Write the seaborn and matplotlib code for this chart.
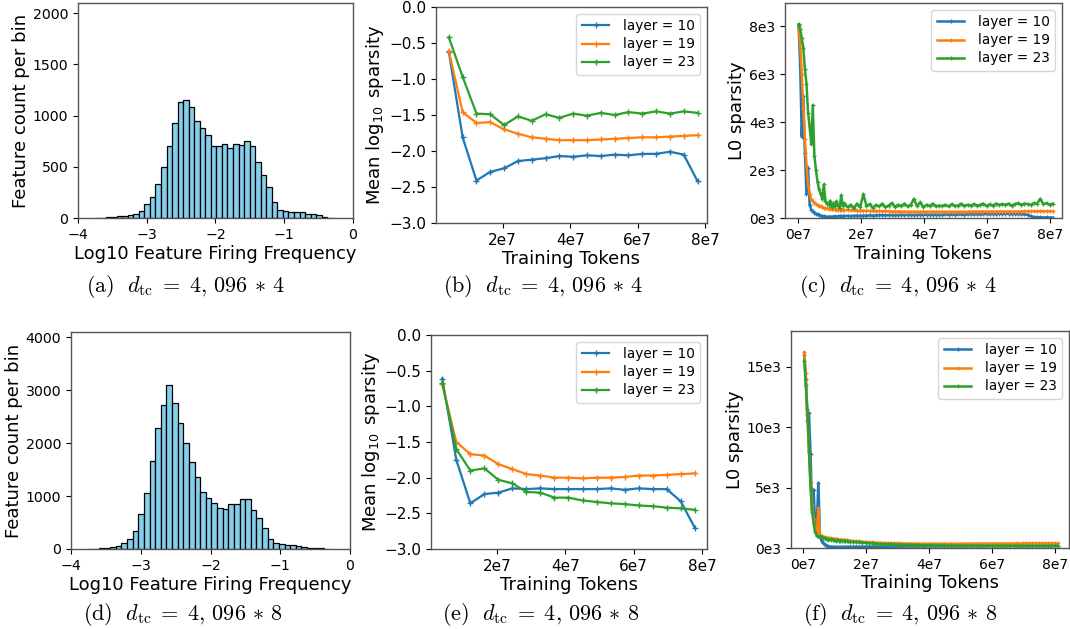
import numpy as np
import pandas as pd
import seaborn as sns
import matplotlib
matplotlib.use("Agg")
import matplotlib.pyplot as plt
from matplotlib.ticker import FuncFormatter, MultipleLocator

# ---- histogram data: log10 feature firing frequency ----
hist_lo = -3.76
hist_hi = -0.294
hist_counts_4 = [1, 2, 5, 10, 15, 20, 30, 40, 70, 140, 210, 335, 500, 705, 930,
                 1133, 1150, 1080, 950, 875, 810, 705, 703, 722, 684, 722, 716,
                 755, 703, 547, 420, 303, 156, 78, 65, 59, 55, 59, 42, 36, 29, 10, 3]
hist_counts_8 = [2, 5, 10, 20, 40, 65, 110, 190, 345, 655, 1050, 1655, 2280, 2720,
                 3100, 2755, 2375, 2000, 1640, 1355, 1085, 970, 875, 770, 762, 857,
                 857, 940, 940, 730, 580, 390, 183, 107, 88, 82, 75, 63, 45, 25, 25, 12, 3]

layers = ["layer = 10", "layer = 19", "layer = 23"]
colors = ["#1f77b4", "#ff7f0e", "#2ca02c"]

# ---- mean log10 sparsity, one eval every ~4.1e6 tokens ----
eval_tokens = [0.40, 0.81, 1.22, 1.63, 2.04, 2.45, 2.86, 3.27, 3.68, 4.09,
               4.50, 4.91, 5.32, 5.73, 6.14, 6.55, 6.96, 7.37, 7.78]  # x 1e7
mean_log_4 = {
    "layer = 10": [-0.62, -1.81, -2.41, -2.29, -2.24, -2.14, -2.12, -2.10, -2.07, -2.08,
                   -2.06, -2.07, -2.05, -2.06, -2.04, -2.04, -2.01, -2.05, -2.42],
    "layer = 19": [-0.61, -1.46, -1.61, -1.60, -1.70, -1.76, -1.81, -1.83, -1.85, -1.85,
                   -1.85, -1.84, -1.83, -1.82, -1.81, -1.81, -1.80, -1.79, -1.78],
    "layer = 23": [-0.42, -0.97, -1.48, -1.49, -1.64, -1.52, -1.58, -1.49, -1.54, -1.48,
                   -1.51, -1.47, -1.50, -1.46, -1.48, -1.45, -1.48, -1.45, -1.47],
}
mean_log_8 = {
    "layer = 10": [-0.61, -1.75, -2.36, -2.23, -2.21, -2.15, -2.16, -2.15, -2.16, -2.16,
                   -2.16, -2.16, -2.15, -2.17, -2.15, -2.16, -2.16, -2.33, -2.70],
    "layer = 19": [-0.69, -1.50, -1.67, -1.69, -1.81, -1.88, -1.95, -1.97, -2.00, -2.00,
                   -2.01, -2.00, -2.00, -1.99, -1.97, -1.97, -1.96, -1.95, -1.94],
    "layer = 23": [-0.67, -1.60, -1.90, -1.87, -2.03, -2.08, -2.20, -2.21, -2.28, -2.28,
                   -2.32, -2.34, -2.36, -2.37, -2.39, -2.40, -2.42, -2.43, -2.45],
}

# ---- L0 sparsity (x 1e3), logged densely early then every 1e6 tokens ----
l0_tokens = np.concatenate([np.arange(0.03, 1.5, 0.05), np.arange(1.58, 8.1, 0.1)])  # x 1e7
l0_4 = {
    "layer = 10": [8.05, 6.4, 3.4, 5.1, 2.7, 1.0, 2.1, 0.55, 0.35, 0.28,
                   0.22, 0.18, 0.15, 0.12, 0.10, 0.08, 0.07, 0.06, 0.05, 0.05,
                   0.06, 0.05, 0.06, 0.07, 0.06, 0.07, 0.08, 0.07, 0.08, 0.08,
                   0.09, 0.08, 0.09, 0.10, 0.09, 0.10, 0.10, 0.11, 0.10, 0.11,
                   0.11, 0.12, 0.11, 0.12, 0.12, 0.11, 0.12, 0.13, 0.12, 0.13,
                   0.13, 0.12, 0.13, 0.14, 0.13, 0.14, 0.13, 0.14, 0.14, 0.13,
                   0.14, 0.15, 0.14, 0.15, 0.14, 0.15, 0.15, 0.14, 0.15, 0.16,
                   0.15, 0.16, 0.15, 0.16, 0.17, 0.16, 0.17, 0.16, 0.17, 0.17,
                   0.18, 0.17, 0.16, 0.17, 0.16, 0.16, 0.15, 0.14, 0.08, 0.04,
                   0.03, 0.03, 0.02, 0.03, 0.02, 0.02],
    "layer = 19": [8.05, 7.3, 6.0, 4.6, 3.3, 2.2, 1.4, 1.0, 0.78, 0.70,
                   0.62, 0.58, 0.55, 0.50, 0.48, 0.45, 0.42, 0.40, 0.40, 0.38,
                   0.37, 0.37, 0.36, 0.36, 0.35, 0.35, 0.34, 0.34, 0.33, 0.33,
                   0.33, 0.32, 0.32, 0.31, 0.31, 0.30, 0.30, 0.30, 0.29, 0.29,
                   0.29, 0.28, 0.28, 0.28, 0.27, 0.27, 0.27, 0.27, 0.26, 0.26,
                   0.26, 0.26, 0.26, 0.26, 0.26, 0.26, 0.26, 0.26, 0.26, 0.26,
                   0.26, 0.26, 0.26, 0.26, 0.26, 0.26, 0.26, 0.26, 0.26, 0.27,
                   0.27, 0.27, 0.27, 0.27, 0.27, 0.27, 0.27, 0.27, 0.27, 0.27,
                   0.27, 0.27, 0.27, 0.27, 0.27, 0.27, 0.28, 0.28, 0.28, 0.28,
                   0.28, 0.28, 0.28, 0.28, 0.28, 0.28],
    "layer = 23": [8.08, 7.9, 7.5, 7.1, 6.2, 5.6, 4.4, 3.8, 3.1, 4.7,
                   2.6, 2.0, 1.5, 1.2, 1.0, 0.8, 1.4, 0.7, 0.6, 0.55,
                   0.72, 0.45, 0.62, 0.48, 0.70, 0.52, 0.42, 0.95, 0.50, 0.62,
                   0.45, 0.55, 0.40, 0.60, 0.45, 1.00, 0.50, 0.58, 0.42, 0.55,
                   0.48, 0.60, 0.45, 0.52, 0.62, 0.47, 0.55, 0.50, 0.60, 0.48,
                   0.55, 0.80, 0.50, 0.65, 0.45, 0.55, 0.50, 0.60, 0.48, 0.52,
                   0.50, 0.55, 0.48, 0.58, 0.50, 0.52, 0.60, 0.50, 0.55, 0.52,
                   0.58, 0.52, 0.55, 0.60, 0.50, 0.57, 0.52, 0.60, 0.55, 0.58,
                   0.55, 0.60, 0.52, 0.58, 0.62, 0.55, 0.60, 0.58, 0.55, 0.62,
                   0.60, 0.80, 0.58, 0.62, 0.55, 0.60],
}
l0_8 = {
    "layer = 10": [16.0, 14.0, 10.5, 11.2, 7.8, 3.2, 4.8, 1.7, 2.2, 5.4,
                   0.9, 0.6, 0.4, 0.3, 0.2, 0.15, 0.12, 0.10, 0.10, 0.08,
                   0.08, 0.08, 0.07, 0.08, 0.08, 0.09, 0.08, 0.09, 0.10, 0.10,
                   0.10, 0.11, 0.10, 0.11, 0.11, 0.12, 0.11, 0.12, 0.12, 0.12,
                   0.12, 0.13, 0.12, 0.13, 0.13, 0.13, 0.13, 0.14, 0.13, 0.14,
                   0.14, 0.14, 0.14, 0.14, 0.15, 0.14, 0.15, 0.15, 0.15, 0.15,
                   0.15, 0.15, 0.15, 0.16, 0.15, 0.16, 0.16, 0.16, 0.16, 0.16,
                   0.16, 0.16, 0.16, 0.17, 0.16, 0.17, 0.17, 0.17, 0.17, 0.17,
                   0.17, 0.17, 0.17, 0.17, 0.17, 0.17, 0.17, 0.17, 0.17, 0.17,
                   0.17, 0.17, 0.17, 0.17, 0.17, 0.17],
    "layer = 19": [16.2, 14.5, 11.0, 8.0, 5.5, 3.6, 2.4, 1.6, 1.3, 3.3,
                   1.1, 1.0, 0.95, 0.90, 0.85, 0.85, 0.80, 0.80, 0.78, 0.75,
                   0.75, 0.72, 0.70, 0.70, 0.68, 0.66, 0.65, 0.63, 0.62, 0.60,
                   0.58, 0.56, 0.55, 0.52, 0.50, 0.48, 0.46, 0.45, 0.43, 0.42,
                   0.41, 0.40, 0.40, 0.39, 0.38, 0.38, 0.37, 0.37, 0.36, 0.36,
                   0.36, 0.35, 0.35, 0.35, 0.35, 0.35, 0.35, 0.35, 0.35, 0.35,
                   0.35, 0.35, 0.35, 0.35, 0.36, 0.35, 0.36, 0.36, 0.36, 0.36,
                   0.36, 0.36, 0.36, 0.37, 0.36, 0.37, 0.37, 0.37, 0.37, 0.37,
                   0.37, 0.37, 0.38, 0.37, 0.38, 0.38, 0.38, 0.38, 0.38, 0.38,
                   0.38, 0.38, 0.38, 0.38, 0.38, 0.38],
    "layer = 23": [15.5, 13.5, 11.5, 8.0, 5.0, 3.0, 2.0, 1.3, 1.0, 1.0,
                   0.95, 0.90, 0.85, 0.80, 0.75, 0.70, 0.72, 0.68, 0.70, 0.65,
                   0.62, 0.65, 0.60, 0.62, 0.58, 0.60, 0.55, 0.57, 0.55, 0.52,
                   0.50, 0.48, 0.47, 0.45, 0.42, 0.40, 0.38, 0.36, 0.35, 0.33,
                   0.32, 0.30, 0.30, 0.29, 0.28, 0.28, 0.27, 0.26, 0.26, 0.25,
                   0.24, 0.24, 0.23, 0.23, 0.22, 0.22, 0.22, 0.21, 0.21, 0.21,
                   0.20, 0.20, 0.20, 0.20, 0.20, 0.19, 0.19, 0.19, 0.19, 0.19,
                   0.19, 0.19, 0.18, 0.18, 0.18, 0.18, 0.18, 0.18, 0.18, 0.18,
                   0.18, 0.18, 0.18, 0.18, 0.18, 0.18, 0.18, 0.18, 0.18, 0.18,
                   0.18, 0.18, 0.18, 0.18, 0.18, 0.18],
}

captions = ["(a)", "(b)", "(c)", "(d)", "(e)", "(f)"]
dict_sizes = ["4", "4", "4", "8", "8", "8"]


def style_frame(ax):
    for s in ax.spines.values():
        s.set_color("#555555")
        s.set_linewidth(1.0)


def add_legend(ax):
    ax.legend(loc="upper right", fontsize=9.8, handlelength=2.0, borderpad=0.4,
              labelspacing=0.3, handletextpad=1.0)


def plot_hist(ax, counts, ytop, ystep):
    edges = np.linspace(hist_lo, hist_hi, len(counts) + 1)
    df = pd.DataFrame({"freq": (edges[:-1] + edges[1:]) / 2, "count": counts})
    sns.histplot(data=df, x="freq", weights="count", bins=edges.tolist(), color="skyblue",
                 edgecolor="black", linewidth=0.9, alpha=1.0, ax=ax)
    ax.set_xlim(-4, 0)
    ax.set_ylim(0, ytop)
    ax.xaxis.set_major_locator(MultipleLocator(1))
    ax.yaxis.set_major_locator(MultipleLocator(ystep))
    ax.set_xlabel("Log10 Feature Firing Frequency", fontsize=13, labelpad=2)
    ax.set_ylabel("Feature count per bin", fontsize=13, labelpad=2)
    ax.tick_params(labelsize=10.2)
    style_frame(ax)


def plot_mean(ax, series, xlim):
    x = np.array(eval_tokens) * 1e7
    for name, c in zip(layers, colors):
        sns.lineplot(x=x, y=series[name], color=c, label=name, marker="+",
                     markersize=4, markeredgewidth=1.0, markeredgecolor=c,
                     linewidth=1.6, ax=ax)
    ax.set_xlim(*xlim)
    ax.set_ylim(-3, 0)
    ax.yaxis.set_major_locator(MultipleLocator(0.5))
    ax.set_xticks([2e7, 4e7, 6e7, 8e7])
    ax.xaxis.set_major_formatter(FuncFormatter(lambda v, p: f"{v / 1e7:.0f}e7"))
    ax.set_xlabel("Training Tokens", fontsize=13, labelpad=2)
    ax.set_ylabel(r"Mean $\log_{10}$ sparsity", fontsize=13, labelpad=2)
    ax.tick_params(labelsize=11)
    add_legend(ax)
    style_frame(ax)


def plot_l0(ax, series, xlim, ylim, ystep):
    x = l0_tokens * 1e7
    for name, c in zip(layers, colors):
        y = np.array(series[name]) * 1e3
        sns.lineplot(x=x, y=y, color=c, label=name, marker="+", markersize=3.5,
                     markeredgewidth=0.9, markeredgecolor=c, linewidth=1.8, ax=ax)
    ax.set_xlim(*xlim)
    ax.set_ylim(*ylim)
    ax.set_xticks([0, 2e7, 4e7, 6e7, 8e7])
    ax.yaxis.set_major_locator(MultipleLocator(ystep))
    ax.xaxis.set_major_formatter(FuncFormatter(lambda v, p: f"{v / 1e7:.0f}e7"))
    ax.yaxis.set_major_formatter(FuncFormatter(lambda v, p: f"{v / 1e3:.0f}e3"))
    ax.set_xlabel("Training Tokens", fontsize=13, labelpad=2)
    ax.set_ylabel("L0 sparsity", fontsize=13, labelpad=2)
    ax.tick_params(labelsize=10)
    add_legend(ax)
    style_frame(ax)


if __name__ == "__main__":
    fig = plt.figure(figsize=(10.7, 6.29), dpi=100)

    W, H = 1070, 629
    # axes boxes in pixels: left, top, right, bottom
    boxes = [(78, 3, 353, 218), (436, 7, 707, 223), (785, 3, 1062, 218),
             (71, 332, 350, 549), (431, 335, 707, 549), (791, 331, 1069, 548)]
    axes = [fig.add_axes([l / W, 1 - b / H, (r - l) / W, (b - t) / H]) for l, t, r, b in boxes]

    plot_hist(axes[0], hist_counts_4, 2100, 500)
    plot_mean(axes[1], mean_log_4, (0.02e7, 8.06e7))
    plot_l0(axes[2], l0_4, (-0.4e7, 8.37e7), (0, 8970), 2000)
    plot_hist(axes[3], hist_counts_8, 4100, 1000)
    plot_mean(axes[4], mean_log_8, (0.07e7, 8.14e7))
    plot_l0(axes[5], l0_8, (-0.39e7, 8.44e7), (0, 17960), 5000)

    # sub-captions under each panel
    cap_pos = [(185, 286), (543, 286), (898, 286), (183, 614), (541, 614), (900, 614)]
    for (cx, cy), cap, k in zip(cap_pos, captions, dict_sizes):
        fig.text(cx / W, 1 - cy / H,
                 r"$\mathrm{" + cap + r"}\ \ d_{\mathrm{tc}} \;=\; 4,\,096 \,\ast\, " + k + "$",
                 ha="center", va="center", fontsize=16, math_fontfamily="cm")

    fig.savefig("out.png", dpi=100)
